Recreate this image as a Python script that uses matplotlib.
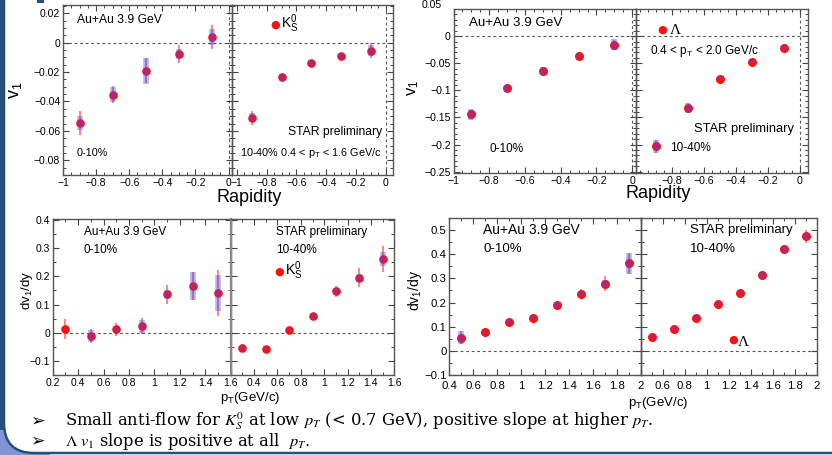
import matplotlib
matplotlib.use("Agg")
import matplotlib.pyplot as plt
from matplotlib.ticker import MultipleLocator, FuncFormatter
from matplotlib.patches import Rectangle, FancyBboxPatch

# ---------------- data ----------------
rapidity = [-0.9, -0.7, -0.5, -0.3, -0.1]

k0_v1_010 = [-0.0547, -0.0353, -0.0192, -0.0077, 0.0038]
k0_v1_010_stat = [0.0084, 0.006, 0.0085, 0.006, 0.008]
k0_v1_010_sys = [0.0045, 0.005, 0.009, 0.0035, 0.0055]
k0_v1_1040 = [-0.0511, -0.0235, -0.0136, -0.009, -0.0054]
k0_v1_1040_stat = [0.0048, 0.003, 0.002, 0.002, 0.005]
k0_v1_1040_sys = [0.003, 0.0025, 0.002, 0.002, 0.004]

lam_v1_010 = [-0.144, -0.0965, -0.0644, -0.0359, -0.0155]
lam_v1_010_stat = [0.007, 0.004, 0.005, 0.003, 0.008]
lam_v1_010_sys = [0.01, 0.006, 0.007, 0.003, 0.01]
lam_v1_1040 = [-0.203, -0.132, -0.0786, -0.0476, -0.0217]
lam_v1_1040_stat = [0.012, 0.008, 0.003, 0.003, 0.003]
lam_v1_1040_sys = [0.012, 0.009, 0.003, 0.003, 0.003]

pt_k0 = [0.3, 0.5, 0.7, 0.9, 1.1, 1.3, 1.5]
k0_slope_010 = [0.012, -0.0106, 0.0118, 0.0235, 0.136, 0.167, 0.141]
k0_slope_010_stat = [0.036, 0.025, 0.022, 0.028, 0.035, 0.05, 0.08]
k0_slope_010_sys = [0.0, 0.022, 0.008, 0.023, 0.015, 0.05, 0.065]
k0_slope_1040 = [-0.054, -0.0576, 0.0094, 0.0588, 0.147, 0.195, 0.262]
k0_slope_1040_stat = [0.013, 0.008, 0.008, 0.012, 0.02, 0.034, 0.047]
k0_slope_1040_sys = [0.006, 0.005, 0.005, 0.01, 0.01, 0.015, 0.025]

pt_lam = [0.5, 0.7, 0.9, 1.1, 1.3, 1.5, 1.7, 1.9]
lam_slope_010 = [0.055, 0.077, 0.121, 0.138, 0.191, 0.237, 0.278, 0.362]
lam_slope_010_stat = [0.026, 0.006, 0.008, 0.007, 0.01, 0.02, 0.03, 0.045]
lam_slope_010_sys = [0.026, 0.005, 0.006, 0.006, 0.01, 0.01, 0.015, 0.045]
lam_slope_1040 = [0.059, 0.092, 0.138, 0.196, 0.241, 0.314, 0.42, 0.474]
lam_slope_1040_stat = [0.006, 0.006, 0.006, 0.006, 0.008, 0.012, 0.02, 0.027]
lam_slope_1040_sys = [0.005, 0.005, 0.005, 0.005, 0.006, 0.012, 0.015, 0.015]

# ---------------- figure ----------------
W, H = 832, 455
fig = plt.figure(figsize=(W / 100, H / 100), dpi=100)
fig.patch.set_facecolor("white")
SANS = "Liberation Sans"
SERIF = "Liberation Serif"
plt.rcParams["font.family"] = [SANS, "DejaVu Sans"]

# background slide decoration
bg = fig.add_axes([0, 0, 1, 1], zorder=-10)
bg.set_xlim(0, W)
bg.set_ylim(H, 0)
bg.axis("off")
DARK = "#24507e"
bg.add_patch(Rectangle((0, 430), 50, 25, color="#8094d6", lw=0))
bg.add_patch(Rectangle((0, -10), 5, 440, color=DARK, lw=0))
bg.add_patch(FancyBboxPatch((4, -100), 1000, 553, boxstyle="round,pad=0,rounding_size=30",
                            facecolor="white", edgecolor=DARK, lw=1.8))
bg.add_patch(Rectangle((37, 0), 7, 3, color=DARK, lw=0))


def ax_px(x0, y0, x1, y1):
    return fig.add_axes([x0 / W, 1 - y1 / H, (x1 - x0) / W, (y1 - y0) / H])


def fmt(v, pos):
    s = f"{v:.3f}".rstrip("0").rstrip(".")
    if s in ("-0", "-0."):
        s = "0"
    return s.replace("-", "\u2212")


def style(ax, xlim, ylim, xmaj, xmin, ymaj, ymin, fs, labels_y=True, skip_first_x=False,
          xpad=2):
    ax.set_xlim(*xlim)
    ax.set_ylim(*ylim)
    ax.xaxis.set_major_locator(MultipleLocator(xmaj))
    ax.xaxis.set_minor_locator(MultipleLocator(xmin))
    ax.yaxis.set_major_locator(MultipleLocator(ymaj))
    ax.yaxis.set_minor_locator(MultipleLocator(ymin))
    lo = xlim[0]
    if skip_first_x:
        ax.xaxis.set_major_formatter(FuncFormatter(
            lambda v, p: "" if abs(v - lo) < 1e-6 else fmt(v, p)))
    else:
        ax.xaxis.set_major_formatter(FuncFormatter(fmt))
    ax.yaxis.set_major_formatter(FuncFormatter(fmt))
    ax.tick_params(which="both", direction="in", top=True, right=True, color="#444444",
                   labelsize=fs, pad=2, labelleft=labels_y)
    ax.tick_params(axis="x", pad=xpad)
    ax.tick_params(which="major", length=4.5, width=0.8)
    ax.tick_params(which="minor", length=2.3, width=0.7)
    for s in ax.spines.values():
        s.set_color("#555555")
        s.set_linewidth(1.0)
    for lab in ax.get_xticklabels() + ax.get_yticklabels():
        lab.set_fontfamily(SANS)
    ax.set_facecolor("none")


def points(ax, x, y, stat, sys, ms=6.2, syslw=4.0):
    ax.vlines(x, [a - b for a, b in zip(y, stat)], [a + b for a, b in zip(y, stat)],
              color="#ff2020", alpha=0.55, lw=1.4, zorder=3)
    ax.plot(x, y, "o", color="#ff1010", ms=ms, mec="none", zorder=4)
    ax.vlines(x, [a - b for a, b in zip(y, sys)], [a + b for a, b in zip(y, sys)],
              color="#4848f0", alpha=0.42, lw=syslw, zorder=5)


def zero_lines(ax, vert=False):
    ax.axhline(0, color="#555555", lw=0.8, ls=(0, (2.5, 2.5)), zorder=1)
    if vert:
        ax.axvline(0, color="#555555", lw=0.8, ls=(0, (2.5, 2.5)), zorder=1)


# ---------- top-left: K0s v1 vs rapidity ----------
tl_l = ax_px(63, 5, 232, 175)
tl_r = ax_px(232, 5, 392.5, 175)
style(tl_l, (-1, 0.021), (-0.09, 0.0256), 0.2, 0.05, 0.02, 0.005, 7.5)
style(tl_r, (-1.033, 0.045), (-0.09, 0.0256), 0.2, 0.05, 0.02, 0.005, 7.5, labels_y=False)
for a in (tl_l, tl_r):
    zero_lines(a, vert=True)
points(tl_l, rapidity, k0_v1_010, k0_v1_010_stat, k0_v1_010_sys)
points(tl_r, rapidity, k0_v1_1040, k0_v1_1040_stat, k0_v1_1040_sys)
fig.text(77 / W, 1 - 20 / H, "Au+Au 3.9 GeV", fontsize=8.7, va="center", ha="left")
fig.text(77 / W, 1 - 153 / H, "0-10%", fontsize=7.8, va="center", ha="left")
fig.text(275 / W, 1 - 25 / H, "\u25cf", color="#ff1010", fontsize=8, va="center", ha="center",
         family=["DejaVu Sans"])
fig.text(281 / W, 1 - 24 / H, r"$\mathregular{K_S^0}$", fontsize=10, va="center", ha="left")
fig.text(382 / W, 1 - 132 / H, "STAR preliminary", fontsize=8.7, va="center", ha="right")
fig.text(240 / W, 1 - 153 / H, r"10-40% 0.4 < $\mathregular{p_T}$ < 1.6 GeV/c", fontsize=7.8,
         va="center", ha="left")
fig.text(249 / W, 1 - 197 / H, "Rapidity", fontsize=13, va="center", ha="center")
fig.text(15 / W, 1 - 90 / H, r"$\mathregular{v_1}$", fontsize=13, va="center", ha="center",
         rotation=90)

# ---------- top-right: Lambda v1 vs rapidity ----------
tr_l = ax_px(453.5, 9, 636, 173)
tr_r = ax_px(636, 9, 808, 173)
style(tr_l, (-1, 0.021), (-0.2524, 0.05), 0.2, 0.05, 0.05, 0.01, 7.6)
style(tr_r, (-1.025, 0.05), (-0.2524, 0.05), 0.2, 0.05, 0.05, 0.01, 7.6, labels_y=False)
tr_l.set_yticks([0, -0.05, -0.1, -0.15, -0.2, -0.25])
tr_r.set_yticks([0, -0.05, -0.1, -0.15, -0.2, -0.25])
tr_r.set_xticks([-0.8, -0.6, -0.4, -0.2, 0])
for a in (tr_l, tr_r):
    zero_lines(a, vert=True)
points(tr_l, rapidity, lam_v1_010, lam_v1_010_stat, lam_v1_010_sys, ms=6.5)
points(tr_r, rapidity, lam_v1_1040, lam_v1_1040_stat, lam_v1_1040_sys, ms=6.5)
fig.text(432 / W, 1 - 5 / H, "0.05", fontsize=7.6, va="center", ha="center")
fig.text(469 / W, 1 - 23 / H, "Au+Au 3.9 GeV", fontsize=9.6, va="center", ha="left")
fig.text(490 / W, 1 - 149 / H, "0-10%", fontsize=8.5, va="center", ha="left")
fig.text(662 / W, 1 - 30 / H, "\u25cf", color="#ff1010", fontsize=8, va="center", ha="center",
         family=["DejaVu Sans"])
fig.text(670 / W, 1 - 30 / H, "\u039b", fontsize=11, va="center", ha="left", family=[SERIF])
fig.text(650 / W, 1 - 51 / H, r"0.4 < $\mathregular{p_T}$ < 2.0 GeV/c", fontsize=8.5,
         va="center", ha="left")
fig.text(794 / W, 1 - 129 / H, "STAR preliminary", fontsize=9.3, va="center", ha="right")
fig.text(670 / W, 1 - 148 / H, "10-40%", fontsize=8.5, va="center", ha="left")
fig.text(658 / W, 1 - 193 / H, "Rapidity", fontsize=13, va="center", ha="center")
fig.text(413 / W, 1 - 88 / H, r"$\mathregular{v_1}$", fontsize=12, va="center", ha="center",
         rotation=90)

# ---------- bottom-left: K0s slope vs pT ----------
bl_l = ax_px(52.7, 219, 230.7, 375)
bl_r = ax_px(230.7, 219, 394.3, 375)
style(bl_l, (0.2, 1.6), (-0.15, 0.4035), 0.2, 0.1, 0.1, 0.05, 7.5)
style(bl_r, (0.2, 1.6), (-0.15, 0.4035), 0.2, 0.1, 0.1, 0.05, 7.5, labels_y=False,
      skip_first_x=True)
for a in (bl_l, bl_r):
    zero_lines(a)
bl_r.spines["left"].set_linewidth(1.6)
bl_r.spines["left"].set_color("#888888")
points(bl_l, pt_k0, k0_slope_010, k0_slope_010_stat, k0_slope_010_sys)
points(bl_r, pt_k0, k0_slope_1040, k0_slope_1040_stat, k0_slope_1040_sys)
fig.text(84 / W, 1 - 232 / H, "Au+Au 3.9 GeV", fontsize=8.5, va="center", ha="left")
fig.text(84 / W, 1 - 250 / H, "0-10%", fontsize=8.5, va="center", ha="left")
fig.text(276 / W, 1 - 232 / H, "STAR preliminary", fontsize=8.5, va="center", ha="left")
fig.text(276 / W, 1 - 250 / H, "10-40%", fontsize=8.5, va="center", ha="left")
fig.text(279 / W, 1 - 272 / H, "\u25cf", color="#ff1010", fontsize=8, va="center", ha="center",
         family=["DejaVu Sans"])
fig.text(285 / W, 1 - 271 / H, r"$\mathregular{K_S^0}$", fontsize=10, va="center", ha="left")
fig.text(250 / W, 1 - 398 / H, r"$\mathregular{p_T}$(GeV/c)", fontsize=9.5, va="center",
         ha="center")
fig.text(27 / W, 1 - 290 / H, r"$\mathregular{dv_1/dy}$", fontsize=9.5, va="center",
         ha="center", rotation=90)

# ---------- bottom-right: Lambda slope vs pT ----------
br_l = ax_px(449.3, 218, 640.7, 375)
br_r = ax_px(640.7, 218, 816.7, 375)
style(br_l, (0.4, 2.0), (-0.1, 0.55), 0.2, 0.1, 0.1, 0.05, 8.2, xpad=4.5)
style(br_r, (0.4, 2.0), (-0.1, 0.55), 0.2, 0.1, 0.1, 0.05, 8.2, labels_y=False,
      skip_first_x=True, xpad=4.5)
for a in (br_l, br_r):
    zero_lines(a)
points(br_l, pt_lam, lam_slope_010, lam_slope_010_stat, lam_slope_010_sys, ms=6.5)
points(br_r, pt_lam, lam_slope_1040, lam_slope_1040_stat, lam_slope_1040_sys, ms=6.5)
fig.text(483 / W, 1 - 230 / H, "Au+Au 3.9 GeV", fontsize=10, va="center", ha="left")
fig.text(483 / W, 1 - 249 / H, "0-10%", fontsize=9.5, va="center", ha="left")
fig.text(690 / W, 1 - 230 / H, "STAR preliminary", fontsize=9.5, va="center", ha="left")
fig.text(690 / W, 1 - 249 / H, "10-40%", fontsize=9.5, va="center", ha="left")
fig.text(733 / W, 1 - 340 / H, "\u25cf", color="#ff1010", fontsize=8, va="center", ha="center",
         family=["DejaVu Sans"])
fig.text(738 / W, 1 - 342 / H, "\u039b", fontsize=11, va="center", ha="left", family=[SERIF])
fig.text(658 / W, 1 - 403 / H, r"$\mathregular{p_T}$(GeV/c)", fontsize=9.5, va="center",
         ha="center")
fig.text(415 / W, 1 - 290 / H, r"$\mathregular{dv_1/dy}$", fontsize=10, va="center",
         ha="center", rotation=90)

# ---------- bullet text ----------
for yb in (421, 441):
    fig.text(37 / W, 1 - yb / H, "\u27a2", fontsize=12.5, va="center", ha="center",
             family=["DejaVu Sans"])
fig.text(65 / W, 1 - 421 / H,
         r"Small anti-flow for $K_S^0$ at low $p_T$ (< 0.7 GeV), positive slope at higher $p_T$.",
         fontsize=11.8, va="center", ha="left", family=["DejaVu Serif"], math_fontfamily="stix")
fig.text(65 / W, 1 - 441 / H, r"$\Lambda\ v_1$ slope is positive at all  $p_T$.",
         fontsize=11.8, va="center", ha="left", family=["DejaVu Serif"], math_fontfamily="stix")

fig.savefig("out.png", dpi=100, facecolor="white")
